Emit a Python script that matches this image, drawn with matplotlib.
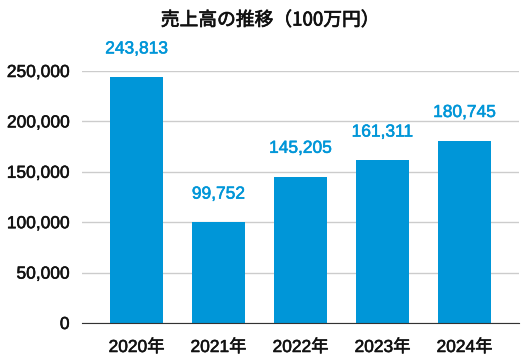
import matplotlib
matplotlib.use("Agg")
import matplotlib.pyplot as plt
import matplotlib.patheffects as pe
from matplotlib.ticker import FuncFormatter

# Data
years = ["2020年", "2021年", "2022年", "2023年", "2024年"]
sales = [243813, 99752, 145205, 161311, 180745]

blue = "#0096D8"
fonts = ["Liberation Sans", "Noto Sans CJK JP"]
plt.rcParams["font.family"] = fonts


def thicken(color, w=0.4):
    return [pe.withStroke(linewidth=w, foreground=color)]


fig = plt.figure(figsize=(5.29, 3.58), dpi=100)
ax = fig.add_axes([82 / 529, 1 - 323 / 358, 437 / 529, 252 / 358])

x = range(len(years))
ax.bar(x, sales, width=0.65, color=blue, zorder=3)

for i, v in zip(x, sales):
    ax.annotate(f"{v:,}", (i, v), xytext=(0, 15), textcoords="offset points",
                ha="center", va="bottom", color=blue, fontsize=12.5,
                path_effects=thicken(blue))

ax.set_ylim(0, 250000)
ax.set_xlim(-0.665, 4.665)
ax.set_yticks(range(0, 250001, 50000))
ax.yaxis.set_major_formatter(FuncFormatter(lambda v, p: f"{int(v):,}"))
ax.set_xticks(list(x))
ax.set_xticklabels(years)
ax.grid(axis="y", color="#cccccc", linewidth=1, zorder=0)
ax.set_axisbelow(True)

for s in ["top", "right", "left"]:
    ax.spines[s].set_visible(False)
ax.spines["bottom"].set_color("#333333")
ax.spines["bottom"].set_zorder(4)
ax.tick_params(axis="y", length=0, labelsize=12.5, pad=9)
ax.tick_params(axis="x", length=0, labelsize=12.5, pad=12)
for t in ax.get_xticklabels() + ax.get_yticklabels():
    t.set_color("#111111")
    t.set_path_effects(thicken("#111111"))

fig.text(270 / 529, 1 - 20 / 358, "売上高の推移（100万円）", ha="center", va="center",
         fontsize=13.5, color="#111111", family=["Noto Sans CJK JP", "DejaVu Sans"],
         path_effects=thicken("#111111", 0.5))

fig.savefig("out.png", dpi=100)
